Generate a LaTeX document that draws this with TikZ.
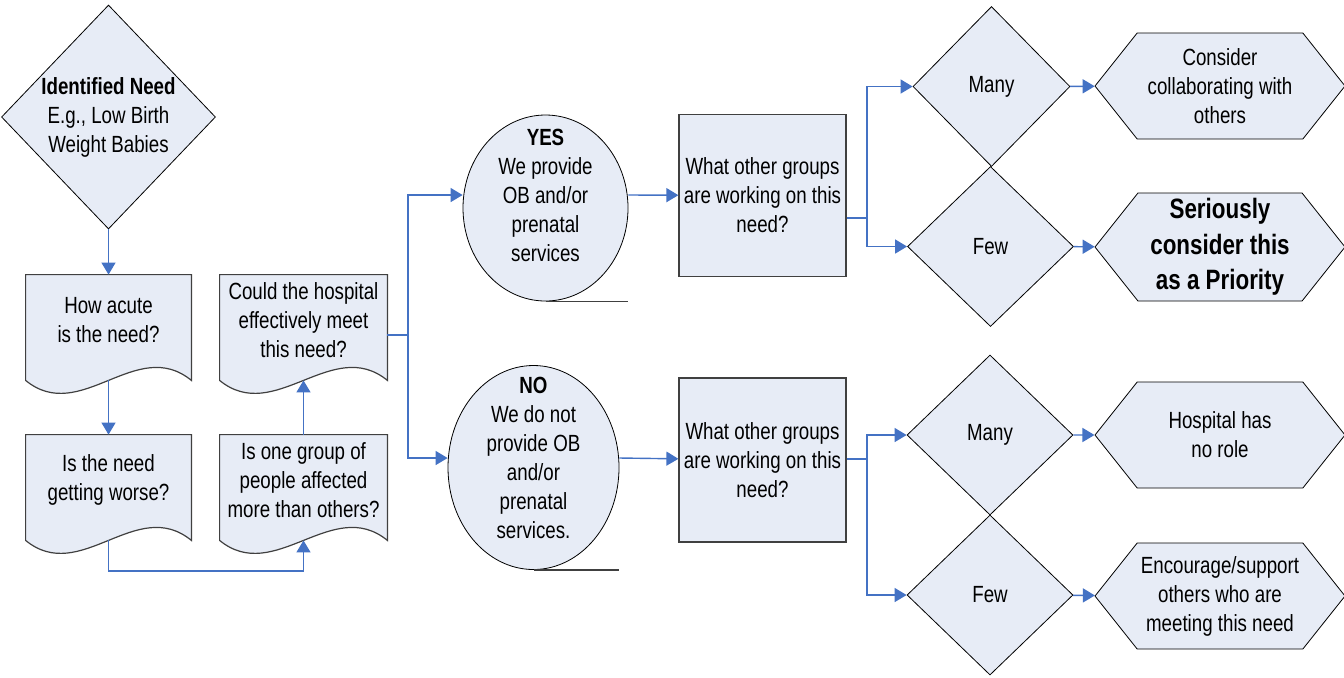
\documentclass[tikz,border=0pt]{standalone}
\usepackage{fontspec}
\setmainfont{Liberation Sans}[FakeStretch=0.8]
\usetikzlibrary{shapes.geometric,shapes.symbols,arrows.meta,backgrounds}
\definecolor{boxfill}{RGB}{231,236,246}
\definecolor{linkblue}{RGB}{68,114,196}
\definecolor{edgegray}{RGB}{64,64,64}
\newcommand{\flowfont}{\fontsize{11.7}{14.5}\selectfont}
\newcommand{\bigflowfont}{\fontsize{14}{17.75}\selectfont\bfseries}

\begin{document}
\begin{tikzpicture}[x=0.5pt,y=-0.5pt,
		txt/.style={font=\flowfont,align=center,inner sep=0pt},
		decision/.style={txt,diamond,draw=black,line width=0.4pt,fill=boxfill,minimum width=83pt,minimum height=80pt},
		docbox/.style={txt,rectangle,minimum width=82.5pt,minimum height=45pt},
		docshape/.style={draw=edgegray,line width=0.6pt,fill=boxfill},
		store/.style={ellipse,draw=black,line width=0.4pt,fill=boxfill},
		tapeline/.style={draw=edgegray,line width=0.8pt},
		askbox/.style={txt,rectangle,draw=edgegray,line width=0.6pt,fill=boxfill,minimum width=83.5pt,minimum height=81pt},
		outcome/.style={txt,signal,signal to=west and east,signal pointer angle=103,draw=black,line width=0.4pt,fill=boxfill,minimum width=125pt,minimum height=53pt},
		conn/.style={draw=linkblue,line width=0.7pt},
		arrowconn/.style={conn,-{Triangle[length=6pt,width=7pt]}}]
		\useasboundingbox (0,0) rectangle (1344,677);
		% first column
		\node[decision,minimum width=106.5pt,minimum height=112pt] (need) at (108.5,117) {\textbf{Identified Need}\\E.g., Low Birth\\Weight Babies};
		\node[docbox] (acute) at (108.5,320) {How acute\\is the need?};
		\node[docbox] (worse) at (108.5,480) {Is the need\\getting worse?};
		\node[docbox,minimum width=83.5pt] (group) at (303.5,480) {Is one group of\\people affected\\more than others?};
		\node[docbox,minimum width=83.5pt] (meet) at (303.5,320) {Could the hospital\\effectively meet\\this need?};
		\begin{scope}[on background layer]
			\foreach \n in {acute,worse,group,meet}
				\draw[docshape] (\n.north west) -- ([yshift=-7.5pt]\n.south west) .. controls +(55,45) and +(-55,-45) .. ([yshift=-7.5pt]\n.south east) -- (\n.north east) -- cycle;
		\end{scope}
		\foreach \n in {acute,worse,group,meet}
			\coordinate (\n-wave) at ([yshift=-7.5pt]\n.south);
		% yes / no
		\node[store,minimum width=82.5pt,minimum height=93pt] (yes) at (545.5,208) {};
		\node[txt] (yes-txt) at (545.5,195) {\textbf{YES}\\We provide\\OB and/or\\prenatal\\services};
		\node[store,minimum width=85.5pt,minimum height=102pt] (no) at (533.5,467.5) {};
		\node[txt] (no-txt) at (533.5,458) {\textbf{NO}\\We do not\\provide OB\\and/or\\prenatal\\services.};
		\draw[tapeline] (yes.south) -- (yes.south -| yes.east);
		\draw[tapeline] (no.south) -- (no.south -| no.east);
		\node[askbox] (ask1) at (762.5,195.5) {What other groups\\are working on this\\need?};
		\node[askbox,minimum height=82pt] (ask2) at (762.5,460) {What other groups\\are working on this\\need?};
		% many / few
		\node[decision,minimum width=78.5pt] (many1) at (991.5,86.5) {Many};
		\node[decision] (few1) at (990.5,246.5) {Few};
		\node[decision] (many2) at (990,435) {Many};
		\node[decision] (few2) at (990,595) {Few};
		\node[outcome] (collab) at (1220,86) {Consider\\collaborating with\\others};
		\node[outcome,font=\bigflowfont,minimum height=54pt] (priority) at (1220,247) {Seriously\\consider this\\as a Priority};
		\node[outcome] (norole) at (1220,435) {Hospital has\\no role};
		\node[outcome] (support) at (1220,596) {Encourage/support\\others who are\\meeting this need};
		% connectors
		\draw[arrowconn] (need) -- (acute);
		\draw[arrowconn] (acute-wave) -- (worse);
		\coordinate (loop) at (303.5,571);
		\draw[arrowconn] (worse-wave) |- (loop) -- (group-wave);
		\draw[arrowconn] (group) -- (meet-wave);
		\coordinate (fork1) at (408,335);
		\draw[conn] (meet.east |- fork1) -- (fork1);
		\draw[arrowconn] (fork1) |- (yes.west |- yes-txt);
		\draw[arrowconn] (fork1) |- (no.west |- no-txt);
		\draw[arrowconn] (yes.east |- yes-txt) -- (ask1);
		\draw[arrowconn] (no.east |- no-txt) -- (ask2);
		\coordinate (fork2) at (867,218);
		\draw[conn] (ask1.east |- fork2) -- (fork2);
		\draw[arrowconn] (fork2) |- (many1);
		\draw[arrowconn] (fork2) |- (few1);
		\coordinate (fork3) at (867,459);
		\draw[conn] (ask2.east |- fork3) -- (fork3);
		\draw[arrowconn] (fork3) |- (many2);
		\draw[arrowconn] (fork3) |- (few2);
		\foreach \a/\b in {many1/collab,few1/priority,many2/norole,few2/support}
			\draw[arrowconn] (\a) -- (\b);
\end{tikzpicture}
\end{document}
